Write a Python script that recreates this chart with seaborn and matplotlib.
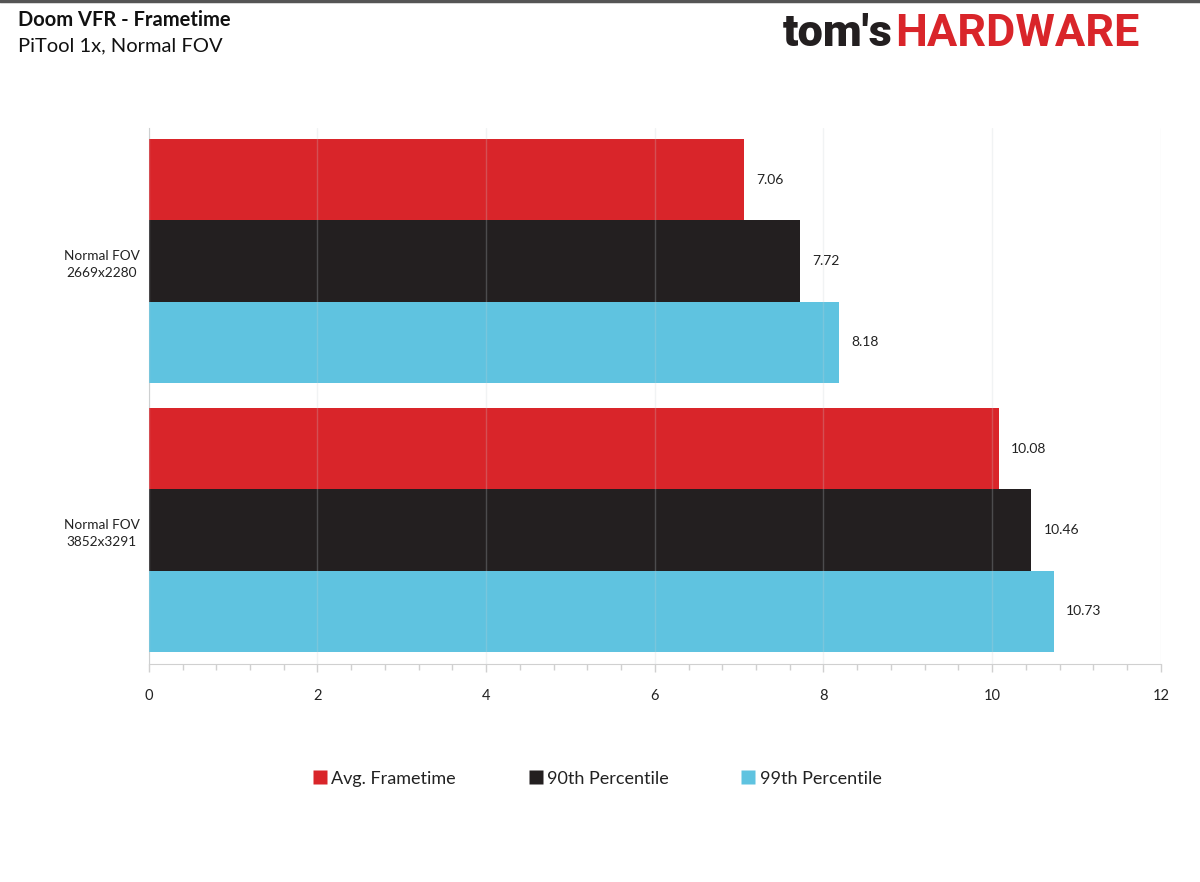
import matplotlib
matplotlib.use('Agg')
import matplotlib.pyplot as plt
from matplotlib.lines import Line2D
from matplotlib.ticker import MultipleLocator
import pandas as pd
import seaborn as sns

# data
resolutions = ['Normal FOV\n2669x2280', 'Normal FOV\n3852x3291']
series = ['Avg. Frametime', '90th Percentile', '99th Percentile']
avg_frametime = [7.06, 10.08]
p90 = [7.72, 10.46]
p99 = [8.18, 10.73]
colors = ['#D9252A', '#231F20', '#5FC3E0']

rows = []
for name, vals in zip(series, [avg_frametime, p90, p99]):
    for res, v in zip(resolutions, vals):
        rows.append({'Resolution': res, 'Series': name, 'Frametime': v})
df = pd.DataFrame(rows)

sns.set_style('white')
plt.rcParams['font.family'] = ['Lato', 'DejaVu Sans']

fig = plt.figure(figsize=(12, 8.82), dpi=100)
ax = fig.add_axes([0.124, 0.2472, 0.8433, 0.6077])

sns.barplot(data=df, y='Resolution', x='Frametime', hue='Series',
            palette=colors, orient='h', width=0.907, gap=0, saturation=1,
            edgecolor='none', linewidth=0, ax=ax, legend=False)

for cont in ax.containers:
    ax.bar_label(cont, fmt='%.2f', padding=9, fontsize=10, color='#222222')

ax.set_xlim(0, 12)
ax.set_ylim(1.498, -0.494)
ax.xaxis.set_major_locator(MultipleLocator(2))
ax.xaxis.set_minor_locator(MultipleLocator(0.4))
ax.grid(axis='x', which='major', color='#c8d0d4', alpha=0.25, linewidth=1)
ax.set_axisbelow(False)
ax.set_xlabel('')
ax.set_ylabel('')

for s in ['top', 'right']:
    ax.spines[s].set_visible(False)
ax.spines['left'].set_color('#d0d0d0')
ax.spines['bottom'].set_color('#d0d0d0')
ax.spines['left'].set_zorder(0)
ax.tick_params(axis='x', which='both', bottom=True, direction='out', color='#d0d0d0')
ax.tick_params(axis='x', which='major', length=6, width=1,
               labelsize=10.5, pad=12, labelcolor='#222222')
ax.tick_params(axis='x', which='minor', length=4, width=1)
ax.tick_params(axis='y', length=0, labelsize=9.8, labelcolor='#222222', pad=34)
for lab in ax.get_yticklabels():
    lab.set_horizontalalignment('center')
    lab.set_linespacing(1.5)

# legend
handles = [Line2D([], [], marker='s', linestyle='none', markersize=10,
                  markerfacecolor=c, markeredgecolor='none') for c in colors]
fig.legend(handles, series, loc='center', bbox_to_anchor=(0.497, 0.117), ncol=3,
           frameon=False, fontsize=13, columnspacing=3.9, handletextpad=0.15,
           handlelength=1.0, labelcolor='#222222')

# title block
fig.text(0.015, 0.977, 'Doom VFR - Frametime', fontsize=14.5, fontweight='bold',
         va='center', color='#111111')
fig.text(0.015, 0.948, 'PiTool 1x, Normal FOV', fontsize=14.5, va='center',
         color='#111111')
fig.add_artist(Line2D([0, 1], [0.999, 0.999], transform=fig.transFigure,
                      color='#555555', linewidth=2.5))

# logo
t1 = fig.text(0.652, 0.961, "tom's", fontsize=32.5, fontweight='black',
              va='center', ha='left', color='#231F20', family=['Roboto', 'DejaVu Sans'])
fig.canvas.draw()
bb = t1.get_window_extent()
x2 = fig.transFigure.inverted().transform((bb.x1 + 3, 0))[0]
fig.text(x2, 0.961, 'HARDWARE', fontsize=32.5, fontweight='bold', va='center',
         ha='left', color='#D9252A', family=['Roboto', 'DejaVu Sans'])

fig.savefig('out.png', dpi=100)
